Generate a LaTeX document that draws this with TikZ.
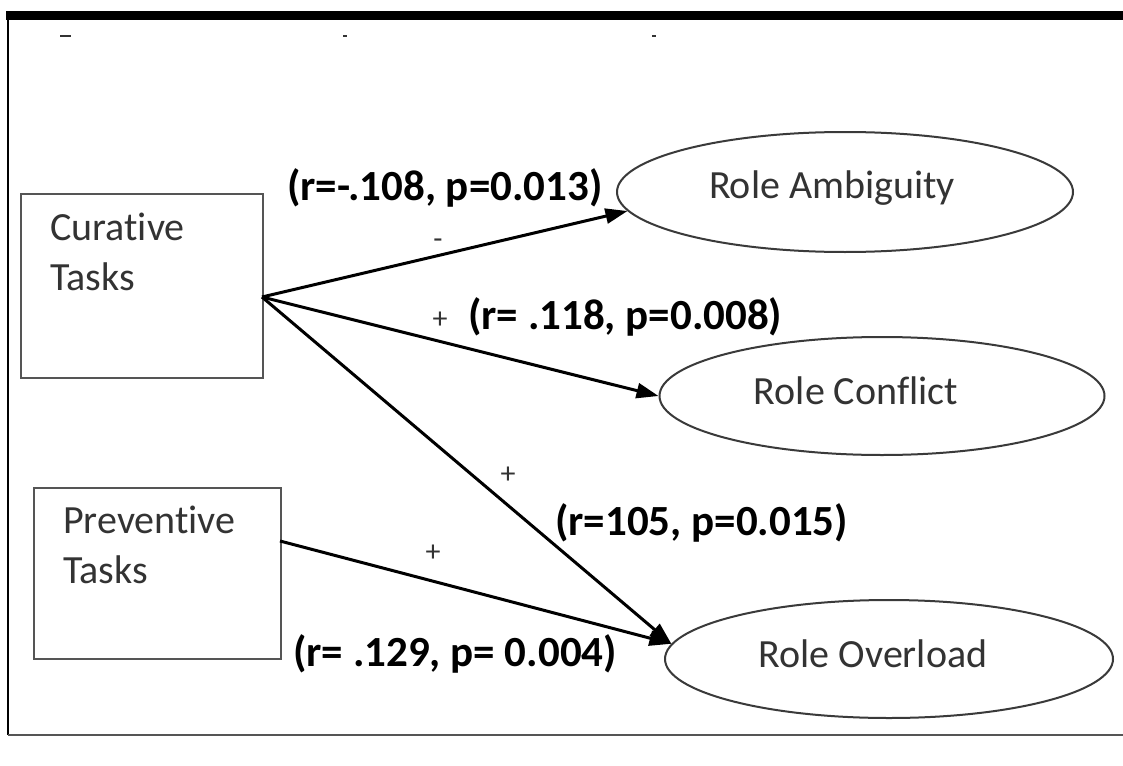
\documentclass[tikz,border=0pt]{standalone}
\usepackage{fontspec}
\setmainfont{Carlito}[Ligatures=NoCommon]
\usetikzlibrary{shapes.geometric,arrows.meta}
\definecolor{boxgray}{HTML}{555555}
\definecolor{ovalgray}{HTML}{3A3A3A}
\definecolor{txtgray}{HTML}{333333}
\begin{document}
\begin{tikzpicture}[x=1pt,y=-1pt,
  box/.style={draw=boxgray,line width=2pt,inner sep=0pt,anchor=north west},
  oval/.style={ellipse,draw=ovalgray,line width=2pt,inner sep=0pt},
  ovaltext/.style={anchor=base,inner sep=0pt,font=\fontsize{40}{48}\selectfont,text=txtgray},
  boxtext/.style={anchor=base west,align=left,inner sep=0pt,font=\fontsize{40}{50}\selectfont,text=txtgray},
  lab/.style={anchor=base west,inner sep=0pt,font=\fontsize{43}{50}\selectfont\bfseries,text=black},
  sign/.style={inner sep=0pt,font=\fontsize{30}{36}\selectfont,text=txtgray},
  conn/.style={draw=black,line width=3pt,-{Triangle[length=22pt,width=15pt]}},
  tick/.style={draw=txtgray,line width=2pt}]
\fill[white] (0,0) rectangle (1123,765);
\useasboundingbox (0,0) rectangle (1123,765);
% frame
\fill[black] (6,11) rectangle (1123,20);
\draw[line width=1.6pt,black] (8,20) -- (8,735);
\draw[line width=1.6pt,boxgray] (8,735) -- (1123,735);
\draw[tick] (60,36) -- (71,36);
\draw[tick] (343,36) -- (347,36);
\draw[tick] (652,36) -- (656,36);
% boxes
\node[box,minimum width=242pt,minimum height=184pt] (cur) at (20,193) {};
\node[boxtext] (curt) at (50,290) {Curative\\Tasks};
\node[box,minimum width=247pt,minimum height=171pt] (prev) at (33,487) {};
\node[boxtext] (prevt) at (63,583) {Preventive\\Tasks};
% ellipses
\node[oval,minimum width=456pt,minimum height=120pt] (amb) at (845,192) {};
\node[ovaltext] (ambt) at (832,198) {Role Ambiguity};
\node[oval,minimum width=445pt,minimum height=118pt] (con) at (882,396) {};
\node[ovaltext] (cont) at (856,404) {Role Conflict};
\node[oval,minimum width=448pt,minimum height=118pt] (ovl) at (889,659) {};
\node[ovaltext] (ovlt) at (873,667) {Role Overload};
% connector start points
\coordinate (cs) at (262,297);
\coordinate (ps) at (280,541);
\draw[conn] (cs) -- (amb.185);
\draw[conn] (cs) -- (con.west);
\draw[conn] (cs) -- (ovl.176);
\draw[conn] (ps) -- (ovl.176);
% labels
\node[lab] (l1) at (287,200) {(r=-.108, p=0.013)};
\node[sign] (s1) at (438,244) {-};
\node[sign] (s2) at (440,320) {+};
\node[lab] (l2) at (468,329) {(r= .118, p=0.008)};
\node[sign] (s3) at (508,475) {+};
\node[lab] (l3) at (555,535) {(r=105, p=0.015)};
\node[sign] (s4) at (433,553) {+};
\node[lab] (l4) at (293,666) {(r= .129, p= 0.004)};
\end{tikzpicture}
\end{document}
